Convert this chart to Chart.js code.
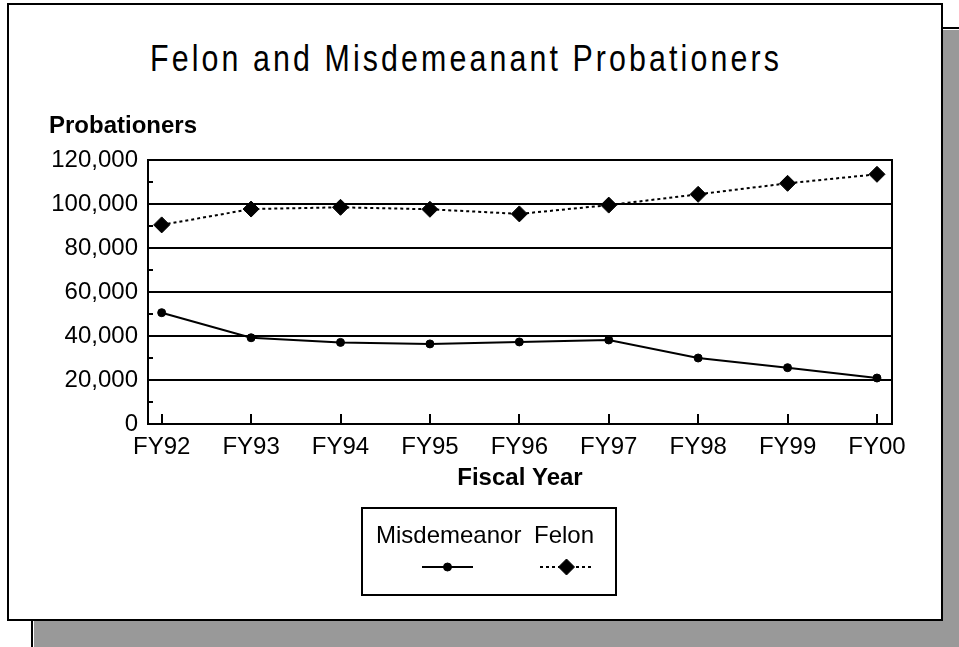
<!DOCTYPE html>
<html>
<head>
<meta charset="utf-8">
<title>Felon and Misdemeanant Probationers</title>
<script src="https://cdn.jsdelivr.net/npm/chart.js@4/dist/chart.umd.min.js"></script>
<style>
  html, body { margin:0; padding:0; width:959px; height:647px; overflow:hidden; background:#fff; }
  #shadow { position:absolute; left:31px; top:27px; width:960px; height:660px; background:#999; border-left:2px solid #000; border-top:2px solid #000; box-shadow: inset 1px 1px 0 #fff; }
  #frame { position:absolute; left:7px; top:3px; width:932px; height:614px; background:#fff; border:2px solid #000; }
  #title { position:absolute; left:0; top:40px; width:932px; text-align:center; font-family:"Liberation Sans", Arial, sans-serif; font-size:37px; line-height:37px; letter-spacing:3.8px; color:#000; white-space:nowrap; transform:scaleX(0.82); transform-origin:466px 50%; }
  #chart { position:absolute; left:0; top:0; }
</style>
</head>
<body>
<div id="shadow"></div>
<div id="frame"></div>
<div id="title">Felon and Misdemeanant Probationers</div>
<canvas id="chart" width="959" height="647"></canvas>
<script>
const categories = ['FY92','FY93','FY94','FY95','FY96','FY97','FY98','FY99','FY00'];
const misdemeanor = [50600, 39200, 37100, 36400, 37300, 38200, 30000, 25600, 20900];
const felon = [90500, 97700, 98500, 97600, 95500, 99500, 104400, 109400, 113500];
const yTickValues = [0, 20000, 40000, 60000, 80000, 100000, 120000];
const yMinorTickValues = [10000, 30000, 50000, 70000, 90000, 110000];
const seriesNames = ['Misdemeanor', 'Felon'];
const yAxisTitle = 'Probationers';
const xAxisTitle = 'Fiscal Year';

const FONT = '"Liberation Sans", Arial, Helvetica, sans-serif';
const toPoints = vals => vals.map((v, i) => ({x: i, y: v}));

const frameTicks = {
  id: 'frameTicks',
  beforeDatasetsDraw(chart) {
    const {ctx, chartArea: a, scales: {x, y}} = chart;
    ctx.save();
    ctx.strokeStyle = '#000';
    ctx.lineWidth = 2;
    ctx.strokeRect(a.left, a.top, a.right - a.left, a.bottom - a.top);
    ctx.beginPath();
    categories.forEach((c, i) => {
      const px = Math.round(x.getPixelForValue(i));
      ctx.moveTo(px, a.bottom); ctx.lineTo(px, a.bottom - 10);
    });
    yMinorTickValues.forEach(v => {
      const py = Math.round(y.getPixelForValue(v));
      ctx.moveTo(a.left, py); ctx.lineTo(a.left + 5, py);
    });
    ctx.stroke();
    ctx.restore();
  },
  afterDraw(chart) {
    const ctx = chart.ctx;
    ctx.save();
    ctx.fillStyle = '#000';
    ctx.font = 'bold 24px ' + FONT;
    ctx.textAlign = 'left';
    ctx.textBaseline = 'alphabetic';
    ctx.fillText(yAxisTitle, 49, 133);
    // legend
    const box = {l: 362, t: 508, r: 616, b: 595};
    ctx.lineWidth = 2; ctx.strokeStyle = '#000';
    ctx.strokeRect(box.l, box.t, box.r - box.l, box.b - box.t);
    const cols = [{tx: 376, s1: 422, s2: 473}, {tx: 534, s1: 540, s2: 593}];
    ctx.font = '24px ' + FONT;
    chart.data.datasets.forEach((ds, i) => {
      const c = cols[i];
      ctx.fillStyle = '#000'; ctx.strokeStyle = ds.borderColor;
      ctx.fillText(ds.label, c.tx, 543);
      ctx.beginPath();
      ctx.setLineDash(ds.borderDash || []);
      ctx.lineWidth = ds.borderWidth;
      ctx.moveTo(c.s1, 567); ctx.lineTo(c.s2, 567);
      ctx.stroke();
      ctx.setLineDash([]);
      ctx.fillStyle = ds.pointBackgroundColor;
      ctx.strokeStyle = ds.pointBorderColor;
      ctx.lineWidth = ds.pointBorderWidth;
      Chart.helpers.drawPoint(ctx, {pointStyle: ds.pointStyle, radius: ds.pointRadius, borderWidth: ds.pointBorderWidth, rotation: 0}, (c.s1 + c.s2) / 2, 567);
    });
    ctx.restore();
  }
};

new Chart(document.getElementById('chart'), {
  type: 'line',
  data: {
    datasets: [
      {label: seriesNames[0], data: toPoints(misdemeanor), borderColor: '#000', backgroundColor: '#000',
       borderWidth: 2, pointStyle: 'circle', pointRadius: 4, pointBorderWidth: 1,
       pointBackgroundColor: '#000', pointBorderColor: '#000', tension: 0, fill: false},
      {label: seriesNames[1], data: toPoints(felon), borderColor: '#000', backgroundColor: '#000',
       borderWidth: 2, borderDash: [3, 3], pointStyle: 'rectRot', pointRadius: 8, pointBorderWidth: 1,
       pointBackgroundColor: '#000', pointBorderColor: '#000', tension: 0, fill: false}
    ]
  },
  options: {
    responsive: false, devicePixelRatio: 1, animation: false,
    layout: {padding: {left: 0, right: 67, top: 160, bottom: 154}},
    plugins: {legend: {display: false}, title: {display: false}, tooltip: {enabled: false}},
    scales: {
      x: {
        type: 'linear', min: -0.153, max: 8.168,
        afterBuildTicks: s => { s.ticks = categories.map((c, i) => ({value: i})); },
        afterFit: s => { s.height = 69; },
        grid: {display: false, drawTicks: false}, border: {display: false},
        ticks: {font: {family: FONT, size: 24}, color: '#000', padding: 9, maxRotation: 0, autoSkip: false,
                callback: v => categories[v]},
        title: {display: true, text: xAxisTitle, font: {family: FONT, size: 24, weight: 'bold'}, color: '#000',
                padding: {top: 0, bottom: 0}}
      },
      y: {
        min: 0, max: 120000,
        afterBuildTicks: s => { s.ticks = yTickValues.map(v => ({value: v})); },
        afterFit: s => { s.width = 148; },
        grid: {color: '#000', lineWidth: 2, drawTicks: false}, border: {display: true, color: '#000', width: 2},
        ticks: {font: {family: FONT, size: 24}, color: '#000', padding: 10, callback: v => v.toLocaleString('en-US')}
      }
    }
  },
  plugins: [frameTicks]
});
</script>
</body>
</html>
